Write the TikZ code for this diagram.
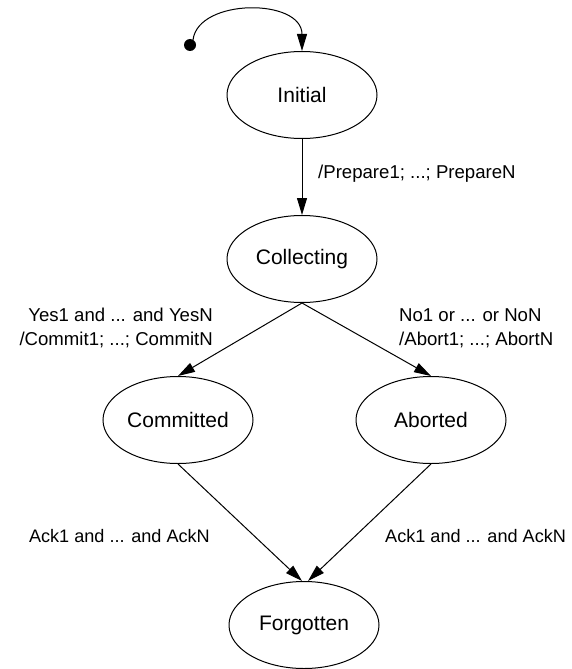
\documentclass[tikz,border=0pt]{standalone}
\usepackage{fontspec}
\setmainfont{Liberation Sans}
\usetikzlibrary{shapes.geometric,arrows.meta}
\begin{document}
\begin{tikzpicture}[x=1pt,y=-1pt,
  state/.style={draw,ellipse,line width=1pt,minimum width=150pt,minimum height=87pt,inner sep=0pt,font=\fontsize{21}{25}\selectfont},
  elabel/.style={font=\fontsize{18.6}{24}\selectfont,inner sep=0pt},
  acklabel/.style={font=\fontsize{18.1}{24}\selectfont,inner sep=0pt},
  conn/.style={line width=1pt,-{Triangle[length=17pt,width=10pt]}}]
\useasboundingbox (0,0) rectangle (571,669);
\node[state] (init) at (302,95) {Initial};
\node[state] (coll) at (302,259) {Collecting};
\node[state] (comm) at (178,420) {Committed};
\node[state] (abor) at (431,420) {Aborted};
\node[state] (forg) at (304,625) {Forgotten};
\fill (190,45) circle (6pt);
\coordinate (start) at (193,40);
\draw[conn] (start) .. controls (198,-2) and (302,-2) .. (init.north);
\draw[conn] (init.south) -- (coll.north);
\draw[conn] (coll.south) -- (comm.north);
\draw[conn] (coll.south) -- (abor.north);
\draw[conn] (comm.south) -- ([xshift=-2pt]forg.north);
\draw[conn] (abor.south) -- ([xshift=4pt]forg.north);
\node[elabel,anchor=base west] (lprep) at (318,178) {/Prepare1; ...; PrepareN};
\node[elabel,anchor=base east,align=right] (lyes) at (213,345) {Yes1 and ... and YesN\\/Commit1; ...; CommitN};
\node[elabel,anchor=base west,align=left] (lno) at (399,345) {No1 or ... or NoN\\/Abort1; ...; AbortN};
\node[acklabel,anchor=base east] (lack1) at (210,542) {Ack1 and ... and AckN};
\node[acklabel,anchor=base west] (lack2) at (385,542) {Ack1 and ... and AckN};
\end{tikzpicture}
\end{document}
